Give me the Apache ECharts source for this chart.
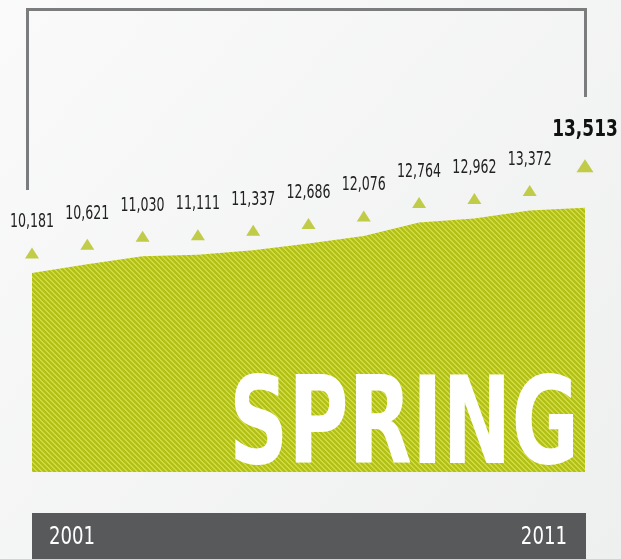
<!DOCTYPE html>
<html>
<head>
<meta charset="utf-8">
<script src="https://cdn.jsdelivr.net/npm/echarts@6/dist/echarts.min.js"></script>
<style>
html,body{margin:0;padding:0;}
#c{width:621px;height:559px;}
</style>
</head>
<body>
<div id="c"></div>
<script>
// ---- data ----
const years = ['2001','2002','2003','2004','2005','2006','2007','2008','2009','2010','2011'];
const values = [10181, 10621, 11030, 11111, 11337, 11686, 12076, 12764, 12962, 13372, 13513];
const valueLabels = ['10,181','10,621','11,030','11,111','11,337','12,686','12,076','12,764','12,962','13,372','13,513'];
const title = 'SPRING';

const NARROW = '"DejaVu Sans Condensed", "DejaVu Sans", sans-serif';

function stripeCanvas(base, stripe, n, w) {
  const c = document.createElement('canvas');
  c.width = n; c.height = n;
  const ctx = c.getContext('2d');
  ctx.fillStyle = base; ctx.fillRect(0, 0, n, n);
  ctx.fillStyle = stripe;
  for (let y = 0; y < n; y++) for (let x = 0; x < n; x++) {
    const d = ((x - y) % n + n) % n;
    if (d < w) ctx.fillRect(x, y, 1, 1);
  }
  return c;
}
const areaTile = stripeCanvas('#b2c118', '#d0da3e', 5, 2);
const textTile = stripeCanvas('#ffffff', '#cdd840', 5, 2);
const textPattern = document.createElement('canvas').getContext('2d').createPattern(textTile, 'repeat');

const chart = echarts.init(document.getElementById('c'), null, {renderer: 'canvas'});
const last = values.length - 1;

chart.setOption({
  animation: false,
  backgroundColor: {
    type: 'linear', x: 0, y: 0, x2: 1, y2: 1,
    colorStops: [{offset: 0, color: '#fafafa'}, {offset: 1, color: '#eeefef'}]
  },
  grid: {left: 32, right: 36, top: 81, bottom: 87},
  xAxis: {
    type: 'category', data: years, boundaryGap: false,
    axisLine: {show: false}, axisTick: {show: false}, axisLabel: {show: false}, splitLine: {show: false}
  },
  yAxis: {
    type: 'value', min: 0, max: 20000,
    axisLine: {show: false}, axisTick: {show: false}, axisLabel: {show: false}, splitLine: {show: false}
  },
  series: [
    {
      type: 'line', data: values, symbol: 'none', silent: true, z: 1,
      lineStyle: {width: 0},
      areaStyle: {color: {image: areaTile, repeat: 'repeat'}, opacity: 1}
    },
    {
      type: 'scatter', silent: true, z: 3,
      data: values.map((v, i) => i === last
        ? {value: v, symbolSize: [17, 13], symbolOffset: [0, -42]}
        : {value: v}),
      symbol: 'triangle', symbolSize: [14, 11], symbolOffset: [0, -20],
      itemStyle: {color: '#b3c11d'}
    },
    {
      type: 'custom', silent: true, z: 4,
      data: values.map((v, i) => [i, v]),
      renderItem: function (params, api) {
        const i = params.dataIndex;
        const p = api.coord([api.value(0), api.value(1)]);
        const isLast = i === last;
        return {
          type: 'text',
          x: p[0], y: p[1] + (isLast ? -78 : -51),
          scaleX: isLast ? 0.82 : 0.7,
          style: {
            text: valueLabels[i],
            font: (isLast ? 'bold 23px ' : '20px ') + NARROW,
            fill: isLast ? '#111111' : '#222222',
            align: 'center', verticalAlign: 'middle'
          }
        };
      }
    }
  ],
  graphic: [
    {
      type: 'polyline', silent: true, z: 10,
      shape: {points: [[27.5, 190], [27.5, 9.5], [585.5, 9.5], [585.5, 97]]},
      style: {stroke: '#7b7c7e', lineWidth: 3, fill: null}
    },
    {
      type: 'rect', silent: true, z: 10,
      shape: {x: 32, y: 513, width: 554, height: 46},
      style: {fill: '#58595b'}
    },
    {
      type: 'text', silent: true, z: 11, x: 49, y: 538, scaleX: 0.84,
      style: {text: years[0], font: '24px ' + NARROW, fill: '#ffffff', align: 'left', verticalAlign: 'middle'}
    },
    {
      type: 'text', silent: true, z: 11, x: 567, y: 538, scaleX: 0.84,
      style: {text: years[last], font: '24px ' + NARROW, fill: '#ffffff', align: 'right', verticalAlign: 'middle'}
    },
    {
      type: 'text', silent: true, z: 12, x: 229, y: 431, scaleX: 0.75, scaleY: 1,
      style: {text: title, font: 'bold 122px ' + NARROW, fill: textPattern, align: 'left', verticalAlign: 'middle'}
    }
  ]
});
</script>
</body>
</html>
